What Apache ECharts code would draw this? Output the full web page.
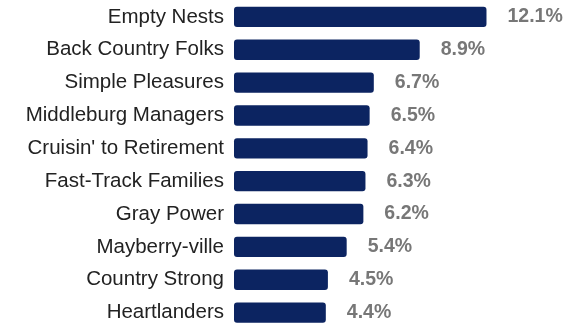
<!DOCTYPE html>
<html><head><meta charset="utf-8">
<script src="https://cdn.jsdelivr.net/npm/echarts@6/dist/echarts.min.js"></script>
<style>html,body{margin:0;padding:0;background:#fff;overflow:hidden}#c{width:587px;height:340px}</style>
</head><body><div id="c"></div>
<script>
const categories = ["Empty Nests","Back Country Folks","Simple Pleasures","Middleburg Managers","Cruisin' to Retirement","Fast-Track Families","Gray Power","Mayberry-ville","Country Strong","Heartlanders"];
const values = [12.1, 8.9, 6.7, 6.5, 6.4, 6.3, 6.2, 5.4, 4.5, 4.4];
const chart = echarts.init(document.getElementById('c'));
chart.setOption({
  animation:false,
  grid:{left:234, top:0.5, width:313, height:328.5, containLabel:false},
  xAxis:{type:'value', min:0, max:15, show:false},
  yAxis:{type:'category', inverse:true, data:categories,
    axisLine:{show:false}, axisTick:{show:false},
    axisLabel:{color:'#222', fontSize:20.5, fontFamily:'Liberation Sans, Arial', margin:10}},
  series:[{type:'bar', data:values, barCategoryGap:'38%',
    itemStyle:{color:'#0c2461', borderRadius:3},
    label:{show:true, position:'right', distance:21, formatter: p => p.value.toFixed(1)+'%',
      color:'#777', fontSize:19.5, fontWeight:'bold', fontFamily:'Liberation Sans, Arial'}}]
});
</script></body></html>
